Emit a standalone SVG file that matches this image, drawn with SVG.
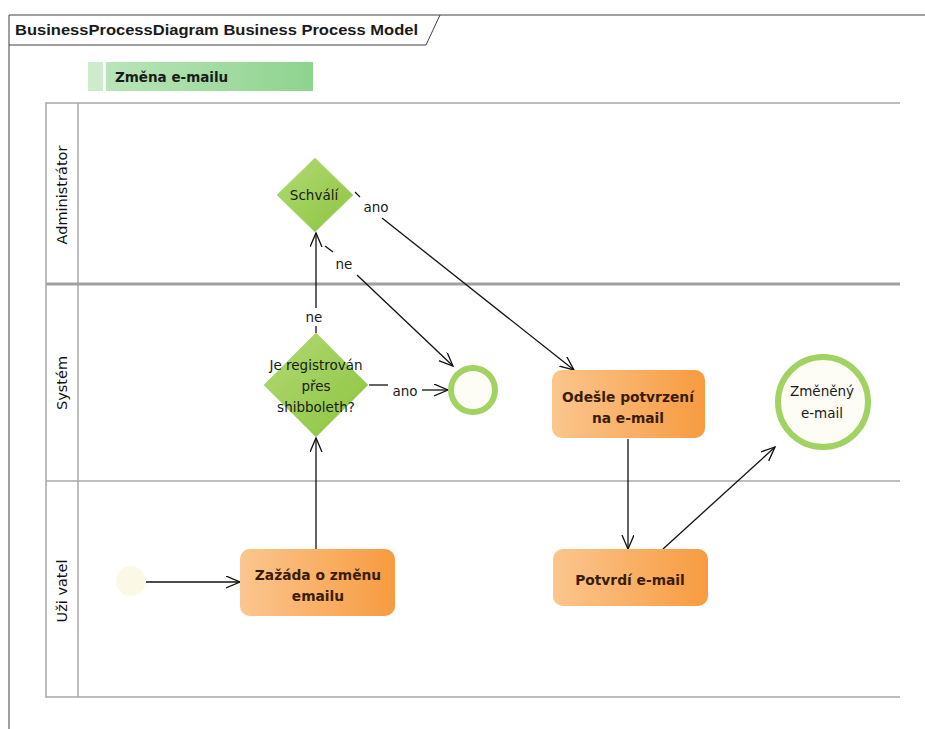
<svg xmlns="http://www.w3.org/2000/svg" width="925" height="729" viewBox="0 0 925 729">
  <style>
    .frame { fill: none; stroke: #404040; stroke-width: 1; }
    .lane { fill: none; stroke: #a8a8a8; stroke-width: 1.5; }
    .title { font-family: "Liberation Sans", Arial, sans-serif; font-weight: bold; font-size: 15px; fill: #1a1a1a; }
    .pooltext { font-family: "DejaVu Sans", Verdana, sans-serif; font-weight: bold; font-size: 13.5px; fill: #1a1a1a; }
    .lanelabel { font-family: "DejaVu Sans", Verdana, sans-serif; font-size: 14.5px; fill: #111; text-anchor: middle; }
    .task { stroke: none; fill: url(#orange); filter: url(#glow); }
    .tasktext { font-family: "DejaVu Sans", Verdana, sans-serif; font-weight: bold; font-size: 13.8px; fill: #3a1c05; text-anchor: middle; }
    .gw { fill: url(#green); stroke: #b6dc86; stroke-width: 1; }
    .gwtext { font-family: "DejaVu Sans", Verdana, sans-serif; font-size: 13.5px; fill: #1a1a1a; text-anchor: middle; }
    .flow { fill: none; stroke: #111; stroke-width: 1.3; }
    .flowlabel { font-family: "DejaVu Sans", Verdana, sans-serif; font-size: 13.5px; fill: #1a1a1a; text-anchor: middle; }
    .endev { fill: #fdfdf6; stroke: #a2d261; stroke-width: 6; }
  </style>
  <defs>
    <linearGradient id="orange" x1="0" y1="0" x2="1" y2="0">
      <stop offset="0" stop-color="#fbc68e"/>
      <stop offset="1" stop-color="#f79b40"/>
    </linearGradient>
    <linearGradient id="green" x1="0" y1="0" x2="1" y2="1">
      <stop offset="0" stop-color="#b2da74"/>
      <stop offset="1" stop-color="#8cc43e"/>
    </linearGradient>
    <linearGradient id="poolbar" x1="0" y1="0" x2="1" y2="0">
      <stop offset="0" stop-color="#b9e4b9"/>
      <stop offset="1" stop-color="#8fd38f"/>
    </linearGradient>
    <filter id="glow" x="-10%" y="-20%" width="120%" height="140%">
      <feGaussianBlur in="SourceAlpha" stdDeviation="2"/>
      <feFlood flood-color="#fde3bf" flood-opacity="0.9"/>
      <feComposite operator="in" in2="SourceGraphic"/>
      <feMerge><feMergeNode/><feMergeNode in="SourceGraphic"/></feMerge>
    </filter>
    <marker id="arrow" markerUnits="userSpaceOnUse" markerWidth="16" markerHeight="14" refX="14" refY="6" orient="auto">
      <path d="M0,0 L14,6 L0,12" fill="none" stroke="#111" stroke-width="1.3"/>
    </marker>
  </defs>

  <rect width="925" height="729" fill="#ffffff"/>

  <!-- diagram frame with name tab -->
  <g id="frame">
    <path class="frame" d="M9,729 V15 H925"/>
    <path class="frame" d="M9,45 H426 L440,15"/>
    <text class="title" x="15" y="35" textLength="403" lengthAdjust="spacingAndGlyphs">BusinessProcessDiagram Business Process Model</text>
  </g>

  <!-- pool name bar -->
  <g id="pool-label">
    <rect x="88" y="62" width="15" height="29" fill="#cdeccd"/>
    <rect x="106" y="62" width="207" height="29" fill="url(#poolbar)"/>
    <text class="pooltext" x="115" y="82">Změna e-mailu</text>
  </g>

  <!-- lanes -->
  <g id="lanes">
    <path class="lane" d="M900,103 H46 V697 H900"/>
    <line class="lane" x1="78" y1="103" x2="78" y2="697"/>
    <line x1="46" y1="284" x2="900" y2="284" stroke="#a0a0a0" stroke-width="3"/>
    <line class="lane" x1="46" y1="481" x2="900" y2="481"/>
    <text class="lanelabel" transform="translate(67,195) rotate(-90)">Administrátor</text>
    <text class="lanelabel" transform="translate(67,383) rotate(-90)">Systém</text>
    <text class="lanelabel" transform="translate(67,591) rotate(-90)">Uži vatel</text>
  </g>

  <!-- sequence flows -->
  <g id="connectors">
    <line class="flow" x1="146" y1="582" x2="240" y2="582" marker-end="url(#arrow)"/>
    <line class="flow" x1="316" y1="549" x2="316" y2="438" marker-end="url(#arrow)"/>
    <line class="flow" x1="316" y1="333" x2="316" y2="326"/>
    <line class="flow" x1="316" y1="308" x2="316" y2="233" marker-end="url(#arrow)"/>
    <text class="flowlabel" x="314" y="322">ne</text>
    <line class="flow" x1="369" y1="385" x2="388" y2="385"/>
    <line class="flow" x1="422" y1="390" x2="448" y2="390" marker-end="url(#arrow)"/>
    <text class="flowlabel" x="405" y="396">ano</text>
    <line class="flow" x1="325" y1="246" x2="333" y2="252"/>
    <line class="flow" x1="357" y1="275" x2="453" y2="366" marker-end="url(#arrow)"/>
    <text class="flowlabel" x="344" y="269">ne</text>
    <line class="flow" x1="355" y1="192" x2="360" y2="197"/>
    <line class="flow" x1="382" y1="218" x2="574" y2="370" marker-end="url(#arrow)"/>
    <text class="flowlabel" x="376" y="212">ano</text>
    <line class="flow" x1="628" y1="439" x2="628" y2="549" marker-end="url(#arrow)"/>
    <line class="flow" x1="663" y1="549" x2="775" y2="447" marker-end="url(#arrow)"/>
  </g>

  <!-- start event -->
  <g id="start">
    <circle cx="131" cy="581" r="15" fill="#fcf8e6"/>
  </g>

  <!-- tasks -->
  <g id="task-zadost">
    <rect class="task" x="240" y="549" width="155" height="67" rx="10"/>
    <text class="tasktext" x="318" y="580">Zažáda o změnu</text>
    <text class="tasktext" x="318" y="601">emailu</text>
  </g>
  <g id="task-odesle">
    <rect class="task" x="552" y="370" width="153" height="68" rx="10"/>
    <text class="tasktext" x="628" y="402">Odešle potvrzení</text>
    <text class="tasktext" x="628" y="423">na e-mail</text>
  </g>
  <g id="task-potvrdi">
    <rect class="task" x="553" y="549" width="155" height="57" rx="10"/>
    <text class="tasktext" x="630" y="585">Potvrdí e-mail</text>
  </g>

  <!-- gateways -->
  <g id="gw-schvali">
    <polygon class="gw" points="315,158 353,195 315,232 277,195"/>
    <text class="gwtext" x="314" y="200">Schválí</text>
  </g>
  <g id="gw-shibboleth">
    <polygon class="gw" points="316,333 368,385 316,437 264,385"/>
    <text class="gwtext" x="316" y="370">Je registrován</text>
    <text class="gwtext" x="316" y="391">přes</text>
    <text class="gwtext" x="316" y="412">shibboleth?</text>
  </g>

  <!-- end events -->
  <g id="end-zamitnuto">
    <circle class="endev" cx="473" cy="390" r="22"/>
  </g>
  <g id="end-zmeneny">
    <circle class="endev" cx="823" cy="402" r="45"/>
    <text class="gwtext" x="822" y="396">Změněný</text>
    <text class="gwtext" x="822" y="418">e-mail</text>
  </g>
</svg>
